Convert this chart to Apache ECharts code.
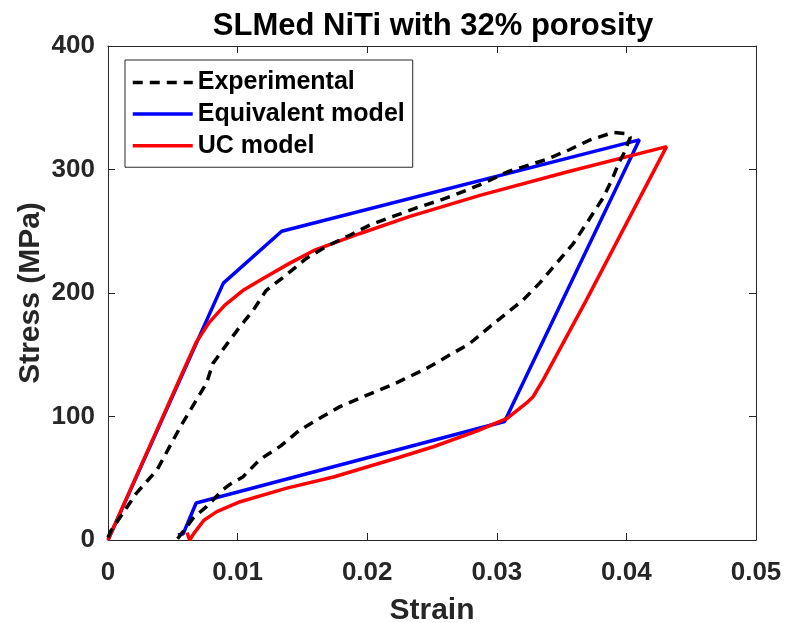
<!DOCTYPE html>
<html lang="en">
<head>
  <script src="https://cdn.jsdelivr.net/npm/echarts@6.0.0/dist/echarts.min.js"></script>
</head>
<body style="margin:0">
  <div id="chart" style="width:788px;height:623px;"></div>
  <script type="text/javascript">
    // experimental curve (strain, stress MPa)
    var expStrain = [0, 0.0002, 0.0022, 0.0038, 0.0056, 0.0068, 0.0076, 0.0081, 0.0092, 0.0102, 0.0112, 0.0122, 0.0138, 0.0153, 0.0169, 0.0187, 0.0202, 0.0220, 0.0238, 0.0256, 0.0274, 0.0290, 0.0308, 0.0338, 0.0356, 0.0372, 0.0390, 0.0401, 0.0403,
                     0.0398, 0.0394, 0.0389, 0.0382, 0.0369, 0.0359, 0.0346, 0.0333, 0.0320, 0.0308, 0.0295, 0.0279, 0.0264, 0.0246, 0.0228, 0.0220, 0.0197, 0.0179, 0.0164, 0.0148, 0.0133, 0.0117, 0.0104, 0.0094, 0.0089, 0.0076, 0.0066, 0.0053];
    var expStress = [2, 7, 38, 57, 92, 113, 127, 143, 159, 173, 186, 202, 215, 228, 238, 247, 255, 262, 269, 275, 282, 289, 298, 308, 316, 324, 330, 329, 326,
                     313, 305, 292, 277, 256, 240, 224, 208, 194, 184, 173, 159, 150, 139, 130, 126, 116, 108, 99, 89, 76, 65, 51, 45, 41, 27, 18, 0];

    var eqStrain = [0, 0.0089, 0.0134, 0.0410, 0.0306, 0.0068, 0.0058, 0.0054];
    var eqStress = [0, 208, 250, 324, 96, 30, 5, 4];

    var ucStrain = [0, 0.0025, 0.0056, 0.0068, 0.0078, 0.0090, 0.0104, 0.0120, 0.0140, 0.0160, 0.0194, 0.0233, 0.0287, 0.0354, 0.0431,
                    0.0369, 0.0336, 0.0328, 0.0323, 0.0308, 0.0284, 0.0251, 0.0225, 0.0174, 0.0138, 0.0102, 0.0084, 0.0074, 0.0066, 0.0063, 0.0061];
    var ucStress = [0, 59, 132, 160, 176, 190, 202, 212, 224, 235, 248, 262, 279, 298, 318.5,
                    194, 130, 116, 111, 98.5, 88, 75.5, 67, 51, 42, 31, 23, 16, 5, 0, 6];

    function pairs(xs, ys) {
        return xs.map(function (x, i) { return [x, ys[i]]; });
    }

    var axisColor = '#262626';
    var font = 'Liberation Sans';

    var chart = echarts.init(document.getElementById('chart'));

    function baseAxis(extra) {
        return Object.assign({
            type: 'value',
            nameMoveOverlap: false,
            axisLine: { show: true, onZero: false, lineStyle: { color: axisColor, width: 1 } },
            axisTick: { show: true, inside: true, length: 7, lineStyle: { color: axisColor } },
            splitLine: { show: false },
            axisLabel: { color: axisColor, fontFamily: font, fontWeight: 'bold', fontSize: 26 }
        }, extra);
    }

    var option = {
        animation: false,
        title: {
            text: 'SLMed NiTi with 32% porosity',
            left: 433,
            textAlign: 'center',
            top: 0,
            padding: 0,
            textStyle: { fontFamily: font, fontWeight: 'bold', fontSize: 31, color: '#000' }
        },
        grid: { left: 108, right: 32, top: 46, bottom: 83, outerBoundsMode: 'none', containLabel: false },
        legend: {
            orient: 'vertical',
            left: 125,
            top: 60,
            padding: [1, 8, 0, 6],
            itemGap: -11.5,
            itemWidth: 60,
            itemHeight: 20,
            borderColor: '#262626',
            borderWidth: 1,
            backgroundColor: '#fff',
            itemStyle: { opacity: 0 },
            lineStyle: { width: 3.5 },
            textStyle: { fontFamily: font, fontWeight: 'bold', fontSize: 25, color: '#000' },
            data: ['Experimental', 'Equivalent model', 'UC model']
        },
        xAxis: [
            baseAxis({
                min: 0, max: 0.05, interval: 0.01,
                name: 'Strain', nameLocation: 'middle', nameGap: 45,
                nameTextStyle: { fontFamily: font, fontWeight: 'bold', fontSize: 30, color: axisColor },
                axisLabel: { color: axisColor, fontFamily: font, fontWeight: 'bold', fontSize: 26, margin: 10 }
            }),
            baseAxis({ min: 0, max: 0.05, interval: 0.01, position: 'top', axisLabel: { show: false } })
        ],
        yAxis: [
            baseAxis({
                min: 0, max: 400, interval: 100,
                name: 'Stress (MPa)', nameLocation: 'middle', nameGap: 51,
                nameTextStyle: { fontFamily: font, fontWeight: 'bold', fontSize: 30, color: axisColor },
                axisLabel: { color: axisColor, fontFamily: font, fontWeight: 'bold', fontSize: 26, margin: 13 }
            }),
            baseAxis({ min: 0, max: 400, interval: 100, position: 'right', axisLabel: { show: false } })
        ],
        series: [
            {
                name: 'Experimental', type: 'line', symbol: 'circle', showSymbol: false, z: 3,
                data: pairs(expStrain, expStress),
                lineStyle: { color: '#000', width: 3.5, type: [10, 7] },
                itemStyle: { color: '#000' }
            },
            {
                name: 'Equivalent model', type: 'line', symbol: 'circle', showSymbol: false, z: 2,
                data: pairs(eqStrain, eqStress),
                lineStyle: { color: '#0000ff', width: 3.5 },
                itemStyle: { color: '#0000ff' }
            },
            {
                name: 'UC model', type: 'line', symbol: 'circle', showSymbol: false, z: 2,
                data: pairs(ucStrain, ucStress),
                lineStyle: { color: '#ff0000', width: 3.5 },
                itemStyle: { color: '#ff0000' }
            }
        ]
    };

    chart.setOption(option);
  </script>
</body>
</html>
